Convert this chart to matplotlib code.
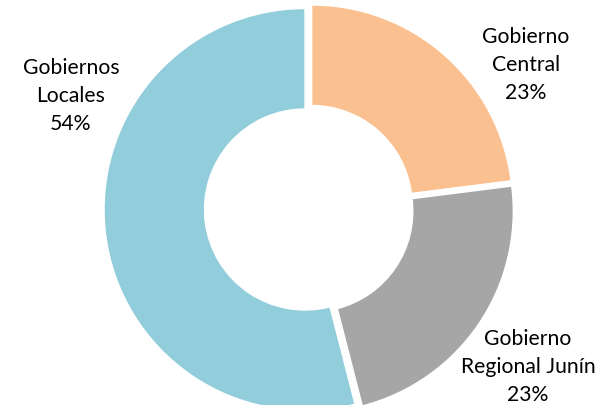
import matplotlib
matplotlib.use("Agg")
import matplotlib.pyplot as plt

labels = ["Gobierno\nCentral", "Gobierno\nRegional Junín", "Gobiernos\nLocales"]
values = [23, 23, 54]
colors = ["#FAC090", "#A6A6A6", "#92CDDC"]
label_pos = [(526, 65), (528, 367), (71, 96)]

W, H = 614, 406
fig = plt.figure(figsize=(W / 100, H / 100), dpi=100)
ax = fig.add_axes([0, 0, 1, 1])

cx, cy, R = 309, 210, 201
# y axis is inverted: counterclock=True + startangle=-90 gives top start, clockwise on screen
wedges, _ = ax.pie(values, colors=colors, startangle=-90, counterclock=True,
                   radius=R, center=(cx, cy), explode=[4] * 3,
                   wedgeprops=dict(width=R * 0.5, edgecolor="white", linewidth=1.0),
                   frame=True)
ax.set_xlim(0, W)
ax.set_ylim(H, 0)
ax.set_aspect("equal")
ax.axis("off")

total = sum(values)
for lab, v, (x, y) in zip(labels, values, label_pos):
    ax.text(x, y, f"{lab}\n{round(100 * v / total)}%", ha="center", va="center",
            fontsize=15.2, family="Lato", linespacing=1.48, color="#000000")

fig.savefig("out.png", dpi=100)
